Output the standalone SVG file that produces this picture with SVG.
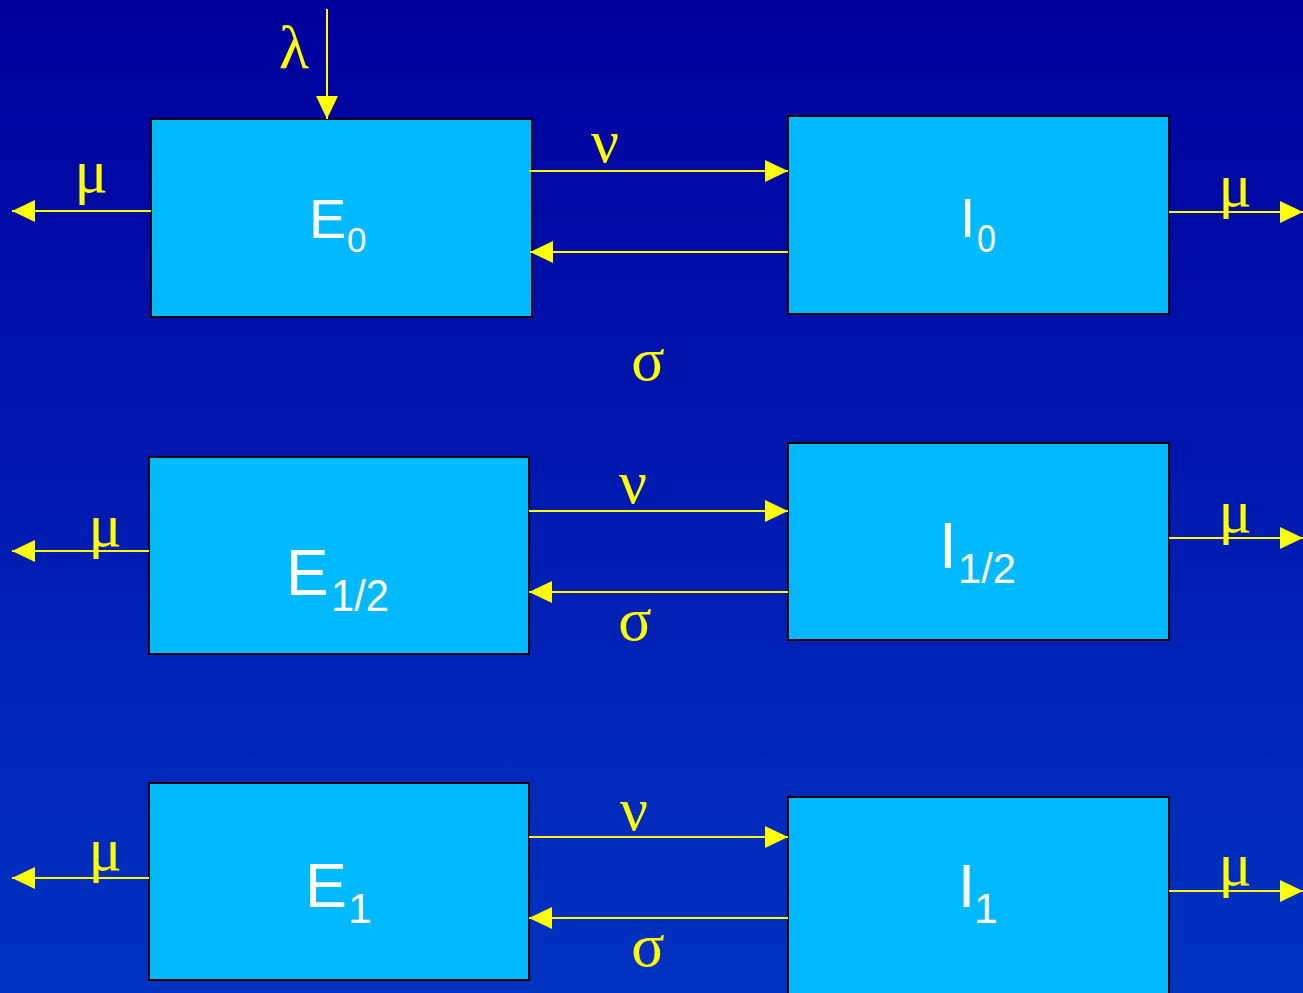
<svg xmlns="http://www.w3.org/2000/svg" width="1303" height="993" viewBox="0 0 1303 993">
<defs>
<linearGradient id="bg" x1="0" y1="0" x2="0" y2="1">
<stop offset="0" stop-color="#00009C"/>
<stop offset="1" stop-color="#0033C2"/>
</linearGradient>
<marker id="ah" markerUnits="userSpaceOnUse" markerWidth="23" markerHeight="22" refX="23" refY="11" orient="auto">
<path d="M0,0 L23,11 L0,22 z" fill="#FFFF00"/>
</marker>
<style>
.box{fill:#00B9FF;stroke:#000;stroke-width:2}
.lbl{fill:#fff;font-family:"Liberation Sans",Arial,sans-serif}
.gr{fill:#FFFF00;font-family:"Liberation Serif","DejaVu Serif",serif;font-size:62px;text-anchor:middle}
.cn{stroke:#FFFF00;stroke-width:2;fill:none;marker-end:url(#ah)}
</style>
</defs>
<rect width="1303" height="993" fill="url(#bg)"/>

<g id="E0"><rect class="box" x="151" y="119" width="381" height="198"/>
<text class="lbl" x="309" y="238" font-size="56">E</text><text class="lbl" x="347" y="252" font-size="35">0</text></g>
<g id="I0"><rect class="box" x="788" y="116" width="381" height="198"/>
<text class="lbl" x="960" y="237" font-size="55">I</text><text class="lbl" x="977" y="252" font-size="38" textLength="19" lengthAdjust="spacingAndGlyphs">0</text></g>

<g id="E12"><rect class="box" x="149" y="457" width="380" height="197"/>
<text class="lbl" x="286" y="595" font-size="64">E</text><text class="lbl" x="331" y="611" font-size="44" textLength="58" lengthAdjust="spacingAndGlyphs">1/2</text></g>
<g id="I12"><rect class="box" x="788" y="443" width="381" height="197"/>
<text class="lbl" x="939" y="568" font-size="64">I</text><text class="lbl" x="958" y="583" font-size="43" textLength="58" lengthAdjust="spacingAndGlyphs">1/2</text></g>

<g id="E1"><rect class="box" x="149" y="783" width="380" height="197"/>
<text class="lbl" x="305" y="907" font-size="63">E</text><text class="lbl" x="348" y="923" font-size="43">1</text></g>
<g id="I1"><rect class="box" x="788" y="797" width="381" height="200"/>
<text class="lbl" x="958" y="907" font-size="62">I</text><text class="lbl" x="974" y="923" font-size="43">1</text></g>

<g id="connectors">
<line class="cn" x1="327" y1="9" x2="327" y2="119"/>
<line class="cn" x1="151" y1="211" x2="12" y2="211"/>
<line class="cn" x1="529" y1="171" x2="788" y2="171"/>
<line class="cn" x1="788" y1="252" x2="530" y2="252"/>
<line class="cn" x1="1169" y1="212" x2="1303" y2="212"/>

<line class="cn" x1="149" y1="551" x2="12" y2="551"/>
<line class="cn" x1="529" y1="511" x2="788" y2="511"/>
<line class="cn" x1="788" y1="592" x2="529" y2="592"/>
<line class="cn" x1="1169" y1="538" x2="1303" y2="538"/>

<line class="cn" x1="149" y1="878" x2="12" y2="878"/>
<line class="cn" x1="529" y1="837" x2="788" y2="837"/>
<line class="cn" x1="788" y1="918" x2="529" y2="918"/>
<line class="cn" x1="1169" y1="891" x2="1303" y2="891"/>
</g>

<g id="labels">
<text class="gr" x="294" y="68">λ</text>
<text class="gr" x="91" y="192">μ</text>
<text class="gr" x="605" y="162">ν</text>
<text class="gr" x="648" y="380">σ</text>
<text class="gr" x="1235" y="206">μ</text>

<text class="gr" x="105" y="546">μ</text>
<text class="gr" x="633" y="503">ν</text>
<text class="gr" x="635" y="640">σ</text>
<text class="gr" x="1235" y="532">μ</text>

<text class="gr" x="105" y="870">μ</text>
<text class="gr" x="634" y="830">ν</text>
<text class="gr" x="648" y="966">σ</text>
<text class="gr" x="1235" y="885">μ</text>
</g>
</svg>
